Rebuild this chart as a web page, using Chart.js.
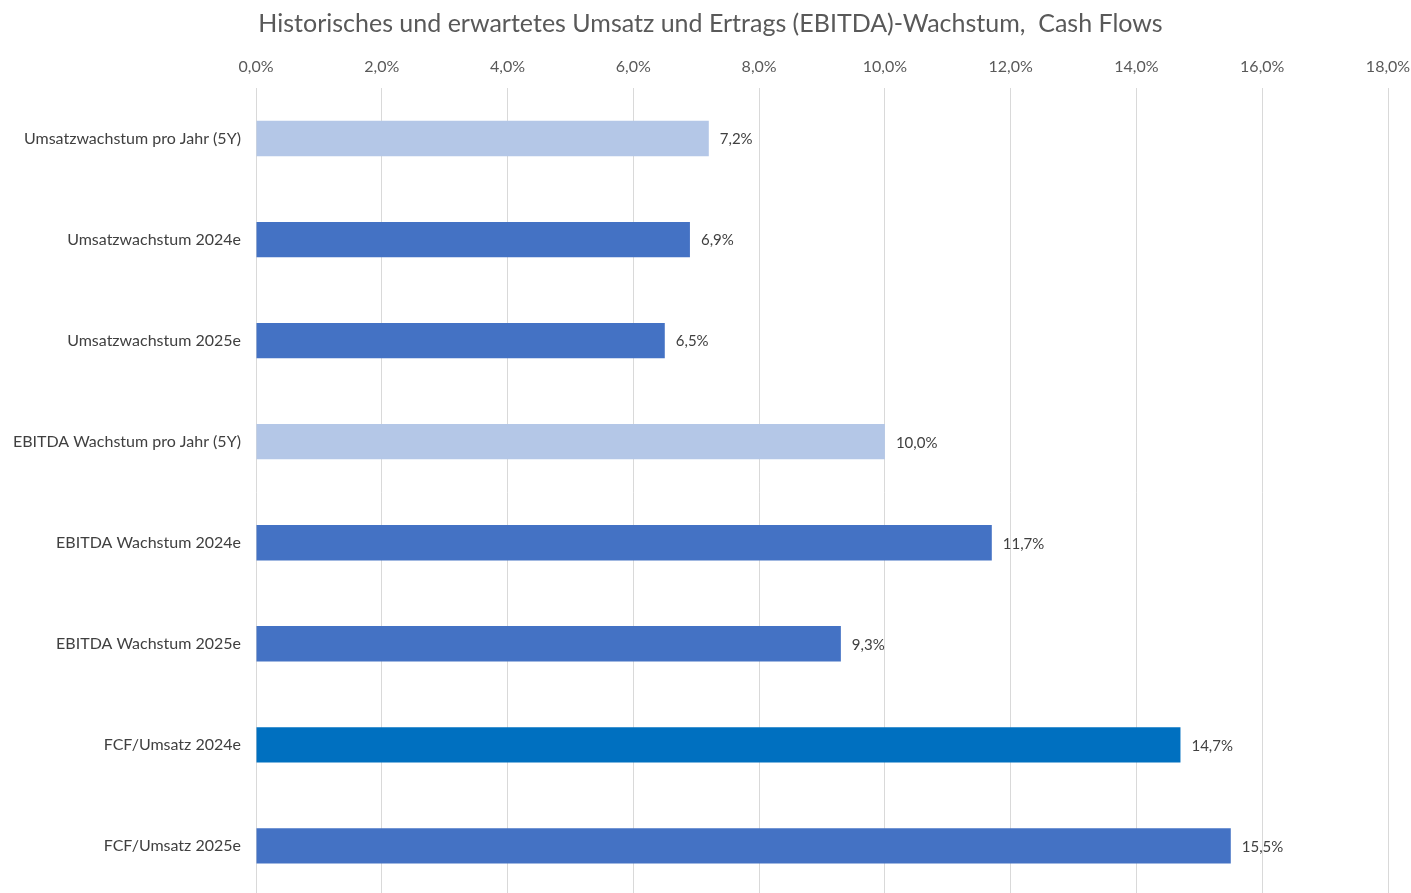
<!DOCTYPE html>
<html>
<head>
<meta charset="utf-8">
<script src="https://cdn.jsdelivr.net/npm/chart.js@4/dist/chart.umd.min.js"></script>
<style>
  html, body { margin: 0; padding: 0; background: #ffffff; overflow: hidden; }
  canvas { display: block; }
</style>
</head>
<body>
<canvas id="chart" width="1411" height="921"></canvas>
<script>
const categories = [
  "Umsatzwachstum pro Jahr (5Y)",
  "Umsatzwachstum 2024e",
  "Umsatzwachstum 2025e",
  "EBITDA Wachstum pro Jahr (5Y)",
  "EBITDA Wachstum 2024e",
  "EBITDA Wachstum 2025e",
  "FCF/Umsatz 2024e",
  "FCF/Umsatz 2025e",
];
const growthValues = [7.2, 6.9, 6.5, 10.0, 11.7, 9.3, 14.7, 15.5];
const barColors = ["#B4C7E7", "#4472C4", "#4472C4", "#B4C7E7", "#4472C4", "#4472C4", "#0070C0", "#4472C4"];
const tickMax = 18;
const tickStep = 2;

const fmt = (v) => v.toFixed(1).replace(".", ",") + "%";
const fontFamily = "Lato, 'Open Sans', sans-serif";

// value labels at the end of each bar
const valueLabels = {
  id: "valueLabels",
  afterDatasetsDraw(chart) {
    const { ctx } = chart;
    const meta = chart.getDatasetMeta(0);
    ctx.save();
    ctx.font = "15px " + fontFamily;
    ctx.fillStyle = "#404040";
    ctx.textAlign = "left";
    ctx.textBaseline = "middle";
    meta.data.forEach((bar, i) => {
      ctx.fillText(fmt(growthValues[i]), bar.x + 11, bar.y + 1);
    });
    ctx.restore();
  },
};

const ctx = document.getElementById("chart").getContext("2d");
const chart = new Chart(ctx, {
  type: "bar",
  data: {
    labels: categories,
    datasets: [
      {
        data: growthValues,
        backgroundColor: barColors,
        borderWidth: 0,
        barPercentage: 0.35,
        categoryPercentage: 1,
      },
    ],
  },
  options: {
    indexAxis: "y",
    responsive: false,
    animation: false,
    layout: { padding: { left: 10, right: 0, top: 0, bottom: 9 } },
    plugins: {
      legend: { display: false },
      tooltip: { enabled: false },
      title: {
        display: true,
        text: "Historisches und erwartetes Umsatz und Ertrags (EBITDA)-Wachstum,  Cash Flows",
        color: "#595959",
        font: { family: fontFamily, size: 25, weight: "normal", lineHeight: 1.2 },
        padding: { top: 9, bottom: 3 },
      },
    },
    scales: {
      x: {
        position: "top",
        min: 0,
        max: tickMax,
        ticks: {
          stepSize: tickStep,
          color: "#595959",
          padding: 12,
          font: { family: fontFamily, size: 16 },
          callback: (v) => fmt(v),
        },
        grid: { color: "#D9D9D9", lineWidth: 1, drawTicks: false },
        border: { display: false },
        afterFit: (scale) => {
          scale.height = 46;
          scale.paddingLeft = 0;
          scale.paddingRight = 23;
        },
      },
      y: {
        ticks: {
          color: "#404040",
          padding: 15,
          font: { family: fontFamily, size: 16 },
        },
        grid: { display: false, drawTicks: false },
        border: { display: false },
        afterFit: (scale) => { scale.width = 246; },
      },
    },
  },
  plugins: [valueLabels],
});
</script>
</body>
</html>
